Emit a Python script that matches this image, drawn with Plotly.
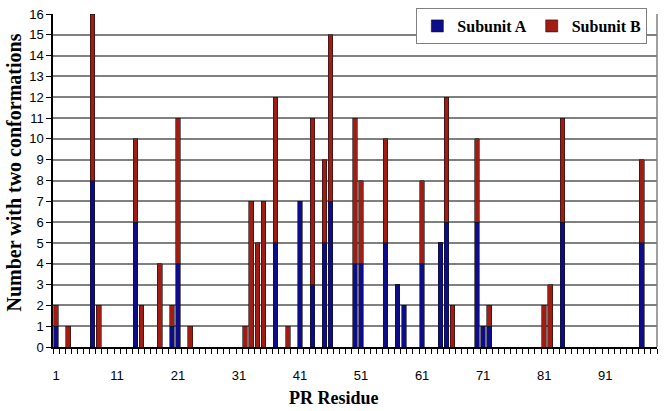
"""Stacked bar chart of PR residues with two conformations, per subunit."""
import plotly.graph_objects as go

# residues that have at least one alternate conformation
residues = [1, 3, 7, 8, 14, 15, 18, 20, 21, 23, 32, 33, 34, 35, 37, 39, 41, 43,
            45, 46, 50, 51, 55, 57, 58, 61, 64, 65, 66, 70, 71, 72, 81, 82, 84, 97]
subunit_a = [1, 0, 8, 0, 6, 0, 0, 1, 4, 0, 0, 0, 0, 0, 5, 0, 7, 3,
             5, 7, 4, 4, 5, 3, 2, 4, 5, 6, 0, 6, 1, 1, 0, 0, 6, 5]
subunit_b = [1, 1, 8, 2, 4, 2, 4, 1, 7, 1, 1, 7, 5, 7, 7, 1, 0, 8,
             4, 8, 7, 4, 5, 0, 0, 4, 0, 6, 2, 4, 0, 1, 2, 3, 5, 4]
x_labels = [1, 11, 21, 31, 41, 51, 61, 71, 81, 91]

tick_font = dict(family="Liberation Sans", size=13, color="black")
serif = "Liberation Serif"

fig = go.Figure()
fig.add_trace(go.Bar(x=residues, y=subunit_a, name="<b>Subunit A</b>", width=0.75,
                     marker=dict(color="#0d0d8c", line=dict(color="#111111", width=0.6))))
fig.add_trace(go.Bar(x=residues, y=subunit_b, name="<b>Subunit B</b>", width=0.75,
                     marker=dict(color="#a11d14", line=dict(color="#111111", width=0.6))))

fig.update_layout(
    barmode="stack",
    width=666, height=411,
    margin=dict(l=53, r=9, t=13, b=64),
    plot_bgcolor="white", paper_bgcolor="white",
    legend=dict(orientation="h", x=0.984, xanchor="right", y=1.015, yanchor="top",
                bgcolor="white", bordercolor="#808080", borderwidth=1,
                font=dict(family=serif, size=16, color="black"),
                traceorder="normal", itemwidth=30, tracegroupgap=0),
    xaxis=dict(range=[0.5, 99.5], tickvals=x_labels, ticks="", automargin=False,
               tickfont=tick_font, ticklabelstandoff=16,
               showgrid=False, showline=True, linecolor="black", linewidth=1.5,
               minor=dict(tick0=0.5, dtick=1, ticks="outside", ticklen=5,
                          tickcolor="black", showgrid=False)),
    yaxis=dict(range=[0, 16], dtick=1, ticks="outside", ticklen=5, tickcolor="black",
               automargin=False, tickfont=tick_font,
               showgrid=True, gridcolor="#808080", gridwidth=2,
               showline=True, linecolor="black", linewidth=1.5, zeroline=False),
    shapes=[dict(type="line", xref="paper", yref="paper", x0=1, x1=1, y0=0, y1=1,
                 line=dict(color="#808080", width=1.5))],
    annotations=[
        dict(text="<b>PR Residue</b>", xref="paper", yref="paper",
             x=(334 - 53) / 604, y=-(398 - 347) / 334, showarrow=False,
             xanchor="center", yanchor="middle",
             font=dict(family=serif, size=18, color="black")),
        dict(text="<b>Number with two conformations</b>", xref="paper", yref="paper",
             x=-(53 - 14) / 604, y=(347 - 172) / 334, textangle=-90, showarrow=False,
             xanchor="center", yanchor="middle",
             font=dict(family=serif, size=20, color="black")),
    ],
)

# drop the page's default body margin so the figure fills the window
fig.write_html("out.html", config={"displayModeBar": False},
               post_script="document.body.style.margin='0';")
